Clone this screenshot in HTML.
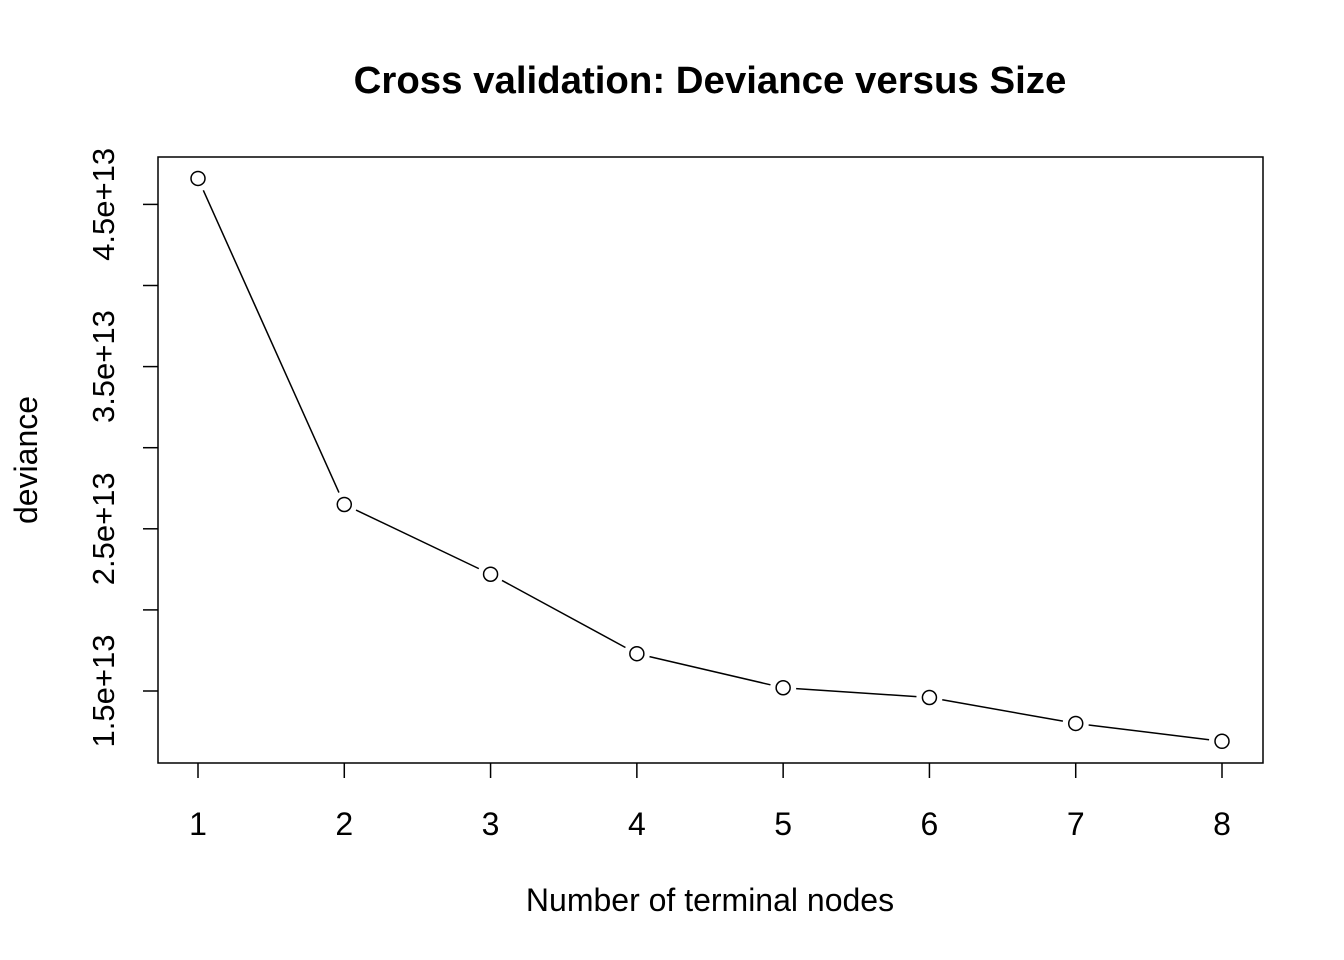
<!DOCTYPE html>
<html><head><meta charset="utf-8"><style>
body{margin:0;background:#fff}
svg{display:block;font-family:"Liberation Sans",Arial,sans-serif}
</style></head><body>
<svg id="chart" width="1344" height="960">
<text x="710" y="93" text-anchor="middle" font-size="38.4" font-weight="bold">Cross validation: Deviance versus Size</text>
<rect x="158" y="157" width="1105" height="606" fill="none" stroke="#000" stroke-width="1.5"/>
<text x="710" y="911" text-anchor="middle" font-size="32">Number of terminal nodes</text>
<text transform="translate(37,460) rotate(-90)" text-anchor="middle" font-size="32">deviance</text>
<g id="axes"></g>
<g id="marks"></g>
</svg>
<script>
const sizes=[1,2,3,4,5,6,7,8];
const deviance=[46.6,26.5,22.2,17.3,15.2,14.6,13.0,11.9]; // in 1e12
const yTicks=[15,20,25,30,35,40,45];
const yTickLabels={15:"1.5e+13",25:"2.5e+13",35:"3.5e+13",45:"4.5e+13"};
const xTicks=[1,2,3,4,5,6,7,8];
const NS="http://www.w3.org/2000/svg";
const xs=v=>198+(v-1)*(1222-198)/7;
const ys=v=>691-(v-15)*16.22;
const axes=document.getElementById('axes'),marks=document.getElementById('marks');
function mk(t,a,p){const e=document.createElementNS(NS,t);for(const k in a)e.setAttribute(k,a[k]);p.appendChild(e);return e;}
xTicks.forEach(v=>{
 const l=mk('line',{x1:xs(v),x2:xs(v),y1:763,y2:778,stroke:'#000','stroke-width':1.5},axes);
 
 
 const t=mk('text',{x:xs(v),y:835,'text-anchor':'middle','font-size':32},axes);t.textContent=v;
 
 
});
yTicks.forEach(v=>{
 const l=mk('line',{x1:143,x2:158,y1:ys(v),y2:ys(v),stroke:'#000','stroke-width':1.5},axes);
 
 
 if(yTickLabels[v]){
 const t=mk('text',{transform:`translate(114,${ys(v)}) rotate(-90)`,'text-anchor':'middle','font-size':31},axes);t.textContent=yTickLabels[v];
 
 
 }
});
for(let i=0;i<sizes.length-1;i++){
 const x1=xs(sizes[i]),y1=ys(deviance[i]),x2=xs(sizes[i+1]),y2=ys(deviance[i+1]);
 const d=Math.hypot(x2-x1,y2-y1),g=13/d;
 const l=mk('line',{x1:x1+(x2-x1)*g,y1:y1+(y2-y1)*g,x2:x2-(x2-x1)*g,y2:y2-(y2-y1)*g,stroke:'#000','stroke-width':1.5},marks);
 
 
}
sizes.forEach((s,i)=>{
 const c=mk('circle',{cx:xs(s),cy:ys(deviance[i]),r:7,fill:'#fff',stroke:'#000','stroke-width':1.5},marks);
 
 
});
</script>
</body></html>
